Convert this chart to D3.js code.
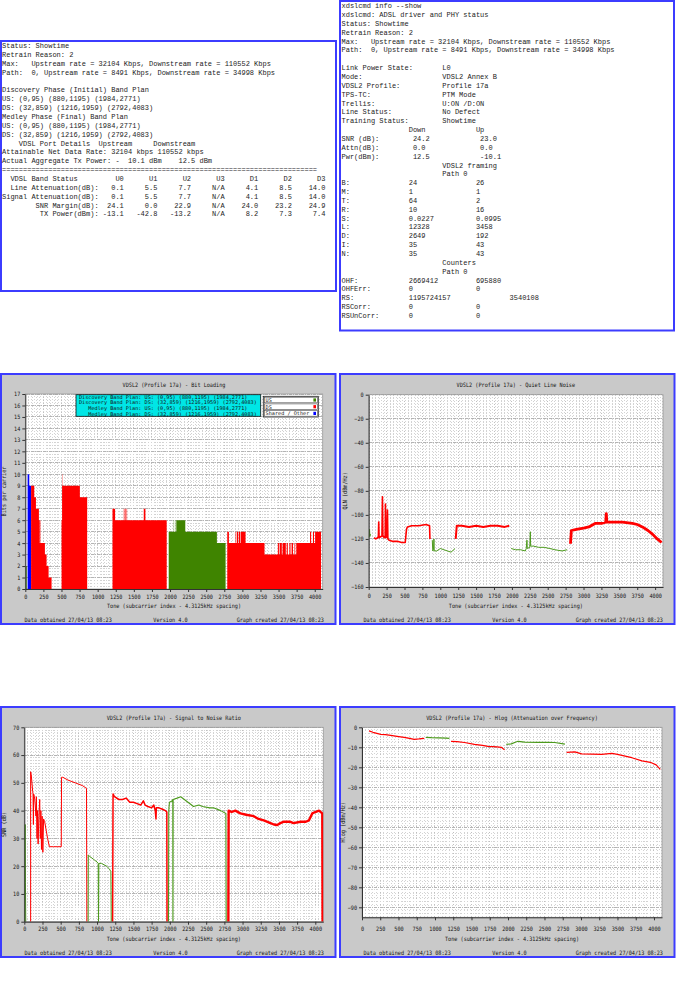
<!DOCTYPE html>
<html>
<head>
<meta charset="utf-8">
<script src="https://d3js.org/d3.v7.min.js"></script>
<style>
  body { margin: 0; background: #fff; }
  .mono { font-family: "Liberation Mono", "DejaVu Sans Mono", monospace; font-size: 7px; fill: #1c1c1c; }
  .ct { font-family: "DejaVu Sans Mono", "Liberation Mono", monospace; font-size: 6px; fill: #141414; }
</style>
</head>
<body>
<script>
//everything in a self executing function to keep it local
(function(){
//---- modem status text values ----
var usBandPlan = ["(0,95)", "(880,1195)", "(1984,2771)"];
var dsBandPlan = ["(32,859)", "(1216,1959)", "(2792,4083)"];
var maxRate = [32104, 110552];   //up, down Kbps
var pathRate = [8491, 34998];
var aggTxPower = ["10.1", "12.5"];
var bandCols = ["U0", "U1", "U2", "U3", "D1", "D2", "D3"];
var lineAtten = ["0.1", "5.5", "7.7", "N/A", "4.1", "8.5", "14.0"];
var signalAtten = ["0.1", "5.5", "7.7", "N/A", "4.1", "8.5", "14.0"];
var snrMargin = ["24.1", "0.0", "22.9", "N/A", "24.0", "23.2", "24.9"];
var txPower = ["-13.1", "-42.8", "-13.2", "N/A", "8.2", "7.3", "7.4"];
var linkLabels = ["Link Power State:", "Mode:", "VDSL2 Profile:", "TPS-TC:", "Trellis:", "Line Status:", "Training Status:"];
var linkValues = ["L0", "VDSL2 Annex B", "Profile 17a", "PTM Mode", "U:ON /D:ON", "No Defect", "Showtime"];
var lineLabels = ["SNR (dB):", "Attn(dB):", "Pwr(dBm):"];
var lineDown = [" 24.2", " 0.0", " 12.5"];
var lineUp = [" 23.0", " 0.0", " -10.1"];
var framingLabels = ["B:", "M:", "T:", "R:", "S:", "L:", "D:", "I:", "N:"];
var framingDown = ["24", "1", "64", "10", "0.0227", "12328", "2649", "35", "35"];
var framingUp = ["26", "1", "2", "16", "0.0995", "3458", "192", "43", "43"];
var counterLabels = ["OHF:", "OHFErr:", "RS:", "RSCorr:", "RSUnCorr:"];
var counterDown = ["2669412", "0", "1195724157", "0", "0"];
var counterUp = ["695880", "0", "3540108", "0", "0"];

//---- chart series: [tone, value] pairs ----
var toneTicks = d3.range(0, 4001, 250);
//bit loading (step data, bits per carrier)
var bitsUS0 = [[4,2],[20,0]];
var bitsShared = [[32,10],[55,9],[80,0]];
var bitsDS1 = [[80,9],[124,8],[147,7],[188,6],[200,4],[211,6],[216,4],[271,3],[294,2],[322,1],[363,0],
               [501,6],[508,9],[512,10],[516,9],[754,8],[855,0]];
var bitsUS1 = [];
var bitsDS2 = [[1205,7],[1241,6],[1361,7],[1370,6],[1380,7],[1388,6],[1400,7],[1407,6],[1637,7],[1660,6],[1954,0]];
var bitsUS2 = [[1982,5],[2052,6],[2056,5],[2070,6],[2074,5],[2087,6],[2211,5],[2648,4],[2768,0]];
var bitsDS3 = [[2791,5],[2814,4],[2906,5],[2915,4],[2925,5],[2940,4],[2950,5],[2970,4],[2978,5],[3044,4],
               [3306,3],[3490,4],[3505,3],[3515,4],[3545,3],[3555,4],[3600,3],[3612,4],[3628,3],[3650,4],
               [3665,3],[3680,4],[3700,3],[3720,4],[3730,3],[3745,4],[3935,5],[3950,4],[3975,5],[3990,4],[4005,5],[4087,0]];
//quiet line noise (dBm/Hz)
var qlnUS0 = [[2,-119],[8,-117],[12,-112],[16,-118],[24,-116]];
var qlnDS1 = [[75,-119],[100,-120],[125,-119],[135,-118],[140,-106],[145,-119],[170,-118],[185,-118],[192,-85],[198,-117],
              [215,-119],[230,-118],[234,-91],[240,-119],[255,-118],[262,-96],[268,-120],[285,-121],[330,-122],[400,-122],
              [460,-123],[510,-123],[528,-112],[540,-110],[600,-109],[700,-109],[800,-108],[850,-109],[855,-120]];
var qlnUS1 = [[888,-121],[895,-130],[905,-129],[911,-120],[915,-130],[950,-130],[1000,-128],[1050,-129],[1100,-130],[1150,-131],[1206,-128]];
var qlnDS2 = [[1215,-120],[1230,-109],[1300,-109],[1400,-110],[1500,-109],[1600,-110],[1700,-109],[1800,-109],[1900,-110],[1963,-109]];
var qlnUS2 = [[1990,-128],[2050,-129],[2120,-129],[2187,-130],[2200,-128],[2210,-121],[2215,-128],[2250,-127],[2257,-114],[2262,-126],
              [2300,-126],[2374,-127],[2450,-127],[2530,-128],[2600,-129],[2700,-130],[2771,-129]];
var qlnDS3 = [[2818,-124],[2830,-113],[2900,-112],[3000,-111],[3075,-110],[3168,-107],[3250,-107],[3310,-106],[3318,-99],[3326,-106],
              [3450,-106],[3542,-106],[3682,-107],[3750,-108],[3822,-110],[3900,-113],[3963,-116],[4030,-120],[4090,-123]];
//signal to noise ratio (dB)
var snrUS0 = [[6,0],[8,30],[12,35],[16,14],[20,0]];
var snrDS1 = [[87,0],[87,54],[95,53],[105,50],[115,47],[120,46],[125,35],[128,46],[140,45],[150,42],[160,38],[166,45],[175,30],
              [180,40],[190,28],[200,38],[212,44],[220,30],[228,40],[236,26],[245,38],[255,25],[265,37],[280,36],[300,33],
              [320,30],[345,27],[400,27],[460,27],[508,27],[512,52],[530,52],[600,51],[700,50],[800,49],[855,48],[860,0]];
var snrUS1 = [[878,0],[880,24],[900,23.5],[950,22.5],[1000,21.5],[1016,21],[1020,0],[1025,21],[1060,21],[1131,20],[1170,19],[1190,18],[1195,0]];
var snrDS2 = [[1214,0],[1220,46],[1240,45],[1300,44],[1350,44],[1400,44.5],[1450,43],[1500,43],[1550,42.5],[1600,42],[1637,43.5],
              [1660,42],[1700,41.5],[1750,41],[1780,42],[1800,40],[1810,37],[1815,41],[1850,41],[1900,40.5],[1940,40],[1959,39.5],[1962,0]];
var snrUS2 = [[1982,0],[1986,40],[1995,43],[2030,43.5],[2041,44],[2043,0],[2046,44],[2100,44.5],[2150,45],[2200,44],[2250,43],
              [2300,42],[2326,41.5],[2400,42],[2450,41.5],[2550,41],[2600,41],[2700,40],[2771,39],[2775,0]];
var snrDS3 = [[2805,0],[2809,40],[2850,39.5],[2900,40],[2970,39],[3050,38.5],[3154,38],[3220,37],[3292,36.5],[3384,35.5],
              [3430,35],[3476,34.8],[3520,35.5],[3568,36],[3650,36],[3700,35.5],[3798,36],[3870,36],[3913,36.5],[3940,38],
              [3959,39],[4000,39.5],[4051,40],[4096,39],[4100,0]];
//hlog (dB)
var hlogDS1 = [[96,-1.8],[150,-2.5],[257,-3.5],[320,-3.7],[394,-4],[480,-4.5],[578,-5],[650,-5.5],[716,-6],[780,-5.8],[853,-5.5]];
var hlogUS1 = [[876,-5],[950,-5.2],[1050,-5.3],[1150,-5.4],[1197,-5.5]];
var hlogDS2 = [[1220,-7],[1300,-7.2],[1404,-7.6],[1541,-8.5],[1650,-9],[1725,-9.5],[1850,-9.8],[1908,-10],[1954,-11.3]];
var hlogUS2 = [[1977,-8.5],[2046,-8.3],[2100,-7.5],[2138,-7],[2229,-7.4],[2413,-7.5],[2550,-7.5],[2642,-7.6],[2780,-8.4]];
var hlogDS3 = [[2803,-12.5],[2917,-12.3],[3009,-13.3],[3150,-13.4],[3284,-13.5],[3422,-13],[3500,-13.5],[3560,-14],[3697,-15.2],
               [3835,-16.8],[3950,-17.5],[4030,-18.8],[4087,-21]];

var stamp = "27/04/13 08:23", version = "4.0";

//---- styles ----
var blue = "#3c3cff", panelGrey = "#c9c9c9", red = "#ff0000", green = "#3f8400", shared = "#0000ff", lineGreen = "#4c9a1c";
var toneMax = 4110, lineH = 8.85, chartCW = 3.12;

var svg = d3.select("body").append("svg")
    .attr("width", 676)
    .attr("height", 998);

//tab expansion (8 columns) and non-breaking spaces for svg text
function tabs(s){
    var out = "";
    for (var i=0; i<s.length; i++){
        if (s[i] == "\t"){ do { out += " "; } while (out.length % 8); }
        else out += s[i];
    };
    return out;
};
function nb(s){ return s.replace(/ /g, "\u00a0"); };

//---- left status box ----
var bandLine = function(label, vals){
    return label.padStart(23) + " " + vals.map(function(v){ return v.padStart(5).padEnd(8); }).join("");
};
var leftLines = [
    "Status: Showtime",
    "Retrain Reason: 2",
    "Max:   Upstream rate = " + maxRate[0] + " Kbps, Downstream rate = " + maxRate[1] + " Kbps",
    "Path:  0, Upstream rate = " + pathRate[0] + " Kbps, Downstream rate = " + pathRate[1] + " Kbps",
    "",
    "Discovery Phase (Initial) Band Plan",
    "US: " + usBandPlan.join(" "),
    "DS: " + dsBandPlan.join(" "),
    "Medley Phase (Final) Band Plan",
    "US: " + usBandPlan.join(" "),
    "DS: " + dsBandPlan.join(" "),
    "    VDSL Port Details".padEnd(23) + "Upstream".padEnd(13) + "Downstream",
    "Attainable Net Data Rate: " + (maxRate[0] + " kbps").padEnd(11) + maxRate[1] + " kbps",
    "Actual Aggregate Tx Power: -  " + (aggTxPower[0] + " dBm").padEnd(12) + aggTxPower[1] + " dBm",
    "=".repeat(75),
    "  VDSL Band Status".padEnd(24) + bandCols.map(function(c){ return c.padStart(5).padEnd(8); }).join(""),
    bandLine("Line Attenuation(dB):", lineAtten),
    bandLine("Signal Attenuation(dB):", signalAtten),
    bandLine("SNR Margin(dB):", snrMargin),
    bandLine("TX Power(dBm):", txPower)
];

//---- right xdslcmd box ----
var rightLines = [
    "xdslcmd info --show",
    "xdslcmd: ADSL driver and PHY status",
    "Status: Showtime",
    "Retrain Reason: 2",
    "Max:   Upstream rate = " + maxRate[0] + " Kbps, Downstream rate = " + maxRate[1] + " Kbps",
    "Path:  0, Upstream rate = " + pathRate[0] + " Kbps, Downstream rate = " + pathRate[1] + " Kbps",
    ""
];
linkLabels.forEach(function(l, i){ rightLines.push(l.padEnd(24) + linkValues[i]); });
rightLines.push(tabs("\t\tDown\t\tUp"));
lineLabels.forEach(function(l, i){ rightLines.push(tabs(l.padEnd(16) + lineDown[i] + "\t\t" + lineUp[i])); });
rightLines.push(tabs("\t\t\tVDSL2 framing"), tabs("\t\t\tPath 0"));
framingLabels.forEach(function(l, i){ rightLines.push(tabs(l.padEnd(16) + framingDown[i] + "\t\t" + framingUp[i])); });
rightLines.push(tabs("\t\t\tCounters"), tabs("\t\t\tPath 0"));
counterLabels.forEach(function(l, i){ rightLines.push(tabs(l.padEnd(16) + counterDown[i] + "\t\t" + counterUp[i])); });

function textBox(x, y, w, h, lines, tx, ty){
    svg.append("rect")
        .attr("x", x).attr("y", y)
        .attr("width", w).attr("height", h)
        .attr("fill", "#fff")
        .attr("stroke", blue)
        .attr("stroke-width", 2);
    svg.append("g").selectAll("text")
        .data(lines)
        .enter()
        .append("text")
        .attr("class", "mono")
        .attr("x", tx)
        .attr("y", function(d, i){ return ty + i * lineH; })
        .text(function(d){ return nb(d); });
};
textBox(1, 41, 335, 250, leftLines, 2, 48.2);
textBox(340, 1, 334, 329.5, rightLines, 341.5, 8.2);

//---- chart panels ----
function ctext(sel){
    sel.attr("class", "ct")
       .attr("lengthAdjust", "spacingAndGlyphs")
       .attr("textLength", function(){ return this.textContent.length * chartCW; });
};

function makePanel(cfg){
    var g = svg.append("g")
        .attr("transform", "translate(" + cfg.ox + "," + cfg.oy + ")");
    g.append("rect")
        .attr("x", 1).attr("y", 1)
        .attr("width", 334.5).attr("height", 250)
        .attr("fill", panelGrey)
        .attr("stroke", blue)
        .attr("stroke-width", 2);

    var x = d3.scaleLinear().domain([0, toneMax]).range([cfg.l, cfg.r]);
    var y = d3.scaleLinear().domain(cfg.yDomain).range([cfg.b, cfg.t]);

    //plot background
    g.append("rect")
        .attr("x", cfg.l).attr("y", cfg.t)
        .attr("width", cfg.r - cfg.l).attr("height", cfg.b - cfg.t)
        .attr("fill", "#fff");

    //dotted grid
    var grid = g.append("g").attr("shape-rendering", "crispEdges");
    grid.selectAll(".vmin")
        .data(d3.range(50, toneMax, 50))
        .enter().append("line")
        .attr("x1", function(d){ return x(d); }).attr("x2", function(d){ return x(d); })
        .attr("y1", cfg.t).attr("y2", cfg.b)
        .attr("stroke", function(d){ return d % 250 ? "#d2d2d2" : "#c0c0c0"; })
        .attr("stroke-dasharray", "1,2");
    var lo = cfg.yDomain[0], hi = cfg.yDomain[1];
    grid.selectAll(".hmin")
        .data(d3.range(lo + cfg.minor, hi, cfg.minor))
        .enter().append("line")
        .attr("x1", cfg.l).attr("x2", cfg.r)
        .attr("y1", function(d){ return y(d); }).attr("y2", function(d){ return y(d); })
        .attr("stroke", "#d4d4d4")
        .attr("stroke-dasharray", "1,2");
    grid.selectAll(".hmaj")
        .data(cfg.yTicks.filter(function(v){ return v != lo; }))
        .enter().append("line")
        .attr("x1", cfg.l).attr("x2", cfg.r)
        .attr("y1", function(d){ return y(d); }).attr("y2", function(d){ return y(d); })
        .attr("stroke", "#b4b4b4")
        .attr("stroke-dasharray", "3,1,1,1");
    g.append("rect")
        .attr("x", cfg.l).attr("y", cfg.t)
        .attr("width", cfg.r - cfg.l).attr("height", cfg.b - cfg.t)
        .attr("fill", "none")
        .attr("stroke", "#9a9a9a")
        .attr("stroke-width", 0.8);

    //clip for the data
    var clipId = "clip" + cfg.ox + "_" + cfg.oy;
    g.append("clipPath").attr("id", clipId)
        .append("rect")
        .attr("x", cfg.l).attr("y", cfg.t)
        .attr("width", cfg.r - cfg.l).attr("height", cfg.b - cfg.t);
    var plot = g.append("g").attr("clip-path", "url(#" + clipId + ")");

    //axes
    var xAxis = g.append("g")
        .attr("transform", "translate(0," + cfg.b + ")")
        .call(d3.axisBottom(x).tickValues(toneTicks).tickSize(3).tickSizeOuter(0).tickPadding(cfg.xPad).tickFormat(d3.format("d")));
    var yAxis = g.append("g")
        .attr("transform", "translate(" + cfg.l + ",0)")
        .call(d3.axisLeft(y).tickValues(cfg.yTicks).tickSize(3).tickSizeOuter(0).tickPadding(2).tickFormat(d3.format("d")));
    [xAxis, yAxis].forEach(function(a){
        a.select(".domain").attr("stroke", "#333");
        a.selectAll(".tick line").attr("stroke", "#333");
        a.selectAll(".tick text").call(ctext);
    });

    //titles and footer
    var cx = (cfg.l + cfg.r) / 2;
    g.append("text").attr("x", cx).attr("y", 13.6).attr("text-anchor", "middle")
        .text(nb(cfg.title)).call(ctext);
    g.append("text").attr("x", cx).attr("y", 235.2).attr("text-anchor", "middle")
        .text(nb("Tone (subcarrier index - 4.3125kHz spacing)")).call(ctext);
    g.append("text")
        .attr("transform", "translate(" + cfg.yLabelX + "," + ((cfg.t + cfg.b) / 2) + ") rotate(-90)")
        .attr("text-anchor", "middle")
        .text(nb(cfg.yLabel)).call(ctext);
    g.append("text").attr("x", 24.5).attr("y", 248.6)
        .text(nb("Data obtained " + stamp)).call(ctext);
    g.append("text").attr("x", 170.5).attr("y", 248.6).attr("text-anchor", "middle")
        .text(nb("Version " + version)).call(ctext);
    g.append("text").attr("x", 324).attr("y", 248.6).attr("text-anchor", "end")
        .text(nb("Graph created " + stamp)).call(ctext);

    return { g: g, plot: plot, x: x, y: y };
};

//---- bit loading ----
var bl = makePanel({ ox: 0, oy: 373, l: 25.3, r: 322.7, t: 21, b: 216,
    yDomain: [0, 17], yTicks: d3.range(0, 18, 1), minor: 0.25, xPad: 2.5, yLabelX: 6,
    title: "VDSL2 (Profile 17a) - Bit Loading", yLabel: "Bits per carrier" });
var bitArea = d3.area()
    .curve(d3.curveStepAfter)
    .x(function(d){ return bl.x(d[0]); })
    .y0(bl.y(0))
    .y1(function(d){ return bl.y(d[1]); });
[[bitsUS0, green], [bitsUS1, green], [bitsUS2, green], [bitsShared, shared],
 [bitsDS1, red], [bitsDS2, red], [bitsDS3, red]].forEach(function(s){
    if (!s[0].length) return;
    bl.plot.append("path")
        .datum(s[0])
        .attr("d", bitArea)
        .attr("fill", s[1]);
});

//legend with band plans
var lg = bl.g.append("g");
lg.append("rect")
    .attr("x", 76).attr("y", 21.7)
    .attr("width", 184.7).attr("height", 21.6)
    .attr("fill", "#00e6e6")
    .attr("stroke", "#111")
    .attr("stroke-width", 0.8);
var planLines = [
    "Discovery Band Plan: US: " + usBandPlan.join(" "),
    "Discovery Band Plan: DS: " + dsBandPlan.join(" "),
    "   Medley Band Plan: US: " + usBandPlan.join(" "),
    "   Medley Band Plan: DS: " + dsBandPlan.join(" ")
];
lg.selectAll(".plan")
    .data(planLines)
    .enter().append("text")
    .attr("x", 79)
    .attr("y", function(d, i){ return 26.2 + i * 5.2 + (i > 1 ? 0.8 : 0); })
    .text(function(d){ return nb(d); })
    .call(ctext)
    .style("font-size", "5px")
    .attr("fill", "#101040");

var keyItems = [["US", green], ["DS", red], ["Shared / Other", shared]];
var key = bl.g.append("g");
key.append("rect")
    .attr("x", 263.3).attr("y", 23.3)
    .attr("width", 55).attr("height", 20.7)
    .attr("fill", "#fff")
    .attr("stroke", "#222")
    .attr("stroke-width", 0.8);
key.selectAll(".row")
    .data(keyItems)
    .enter().append("rect")
    .attr("x", 264.3).attr("y", function(d, i){ return 24.2 + i * 6.7; })
    .attr("width", 53).attr("height", 5.6)
    .attr("fill", "#fff")
    .attr("stroke", "#444")
    .attr("stroke-width", 0.6);
key.selectAll(".sw")
    .data(keyItems)
    .enter().append("rect")
    .attr("x", 313.4).attr("y", function(d, i){ return 25.4 + i * 6.7; })
    .attr("width", 2.6).attr("height", 3.2)
    .attr("fill", function(d){ return d[1]; });
key.selectAll(".lab")
    .data(keyItems)
    .enter().append("text")
    .attr("x", 265.6).attr("y", function(d, i){ return 28.8 + i * 6.7; })
    .text(function(d){ return nb(d[0]); })
    .call(ctext)
    .style("font-size", "5px");

//---- line charts ----
function drawLines(p, series){
    var line = d3.line()
        .x(function(d){ return p.x(d[0]); })
        .y(function(d){ return p.y(d[1]); });
    series.forEach(function(s){
        p.plot.append("path")
            .datum(s[0])
            .attr("d", line)
            .attr("fill", "none")
            .attr("stroke", s[1])
            .attr("stroke-width", s[2])
            .attr("stroke-linejoin", "round");
    });
};

var qln = makePanel({ ox: 339, oy: 373, l: 29.7, r: 324, t: 21.7, b: 214,
    yDomain: [-160, 0], yTicks: d3.range(-160, 1, 20), minor: 2.5, xPad: 4, yLabelX: 8,
    title: "VDSL2 (Profile 17a) - Quiet Line Noise", yLabel: "QLN (dBm/Hz)" });
drawLines(qln, [[qlnUS0, lineGreen, 1], [qlnDS1, red, 1.6], [qlnUS1, lineGreen, 1], [qlnDS2, red, 2],
                [qlnUS2, lineGreen, 1], [qlnDS3, red, 2.8]]);

var snr = makePanel({ ox: 0, oy: 706, l: 24.3, r: 323.3, t: 21.3, b: 215.7,
    yDomain: [0, 70], yTicks: d3.range(0, 71, 10), minor: 1, xPad: 2.3, yLabelX: 6,
    title: "VDSL2 (Profile 17a) - Signal to Noise Ratio", yLabel: "SNR (dB)" });
drawLines(snr, [[snrUS0, lineGreen, 1], [snrDS1, red, 1], [snrUS1, lineGreen, 1], [snrDS2, red, 1.5],
                [snrUS2, lineGreen, 1.1], [snrDS3, red, 2.4]]);

var hlog = makePanel({ ox: 339, oy: 706, l: 23, r: 323, t: 21.3, b: 211.3,
    yDomain: [-95, 0], yTicks: d3.range(-90, 1, 10), minor: 2, xPad: 6.7, yLabelX: 6,
    title: "VDSL2 (Profile 17a) - Hlog (Attenuation over Frequency)", yLabel: "Hlog (dBm/Hz)" });
drawLines(hlog, [[hlogDS1, red, 1.2], [hlogUS1, lineGreen, 1.2], [hlogDS2, red, 1.2],
                 [hlogUS2, lineGreen, 1.2], [hlogDS3, red, 1.2]]);

})();
</script>
</body>
</html>
